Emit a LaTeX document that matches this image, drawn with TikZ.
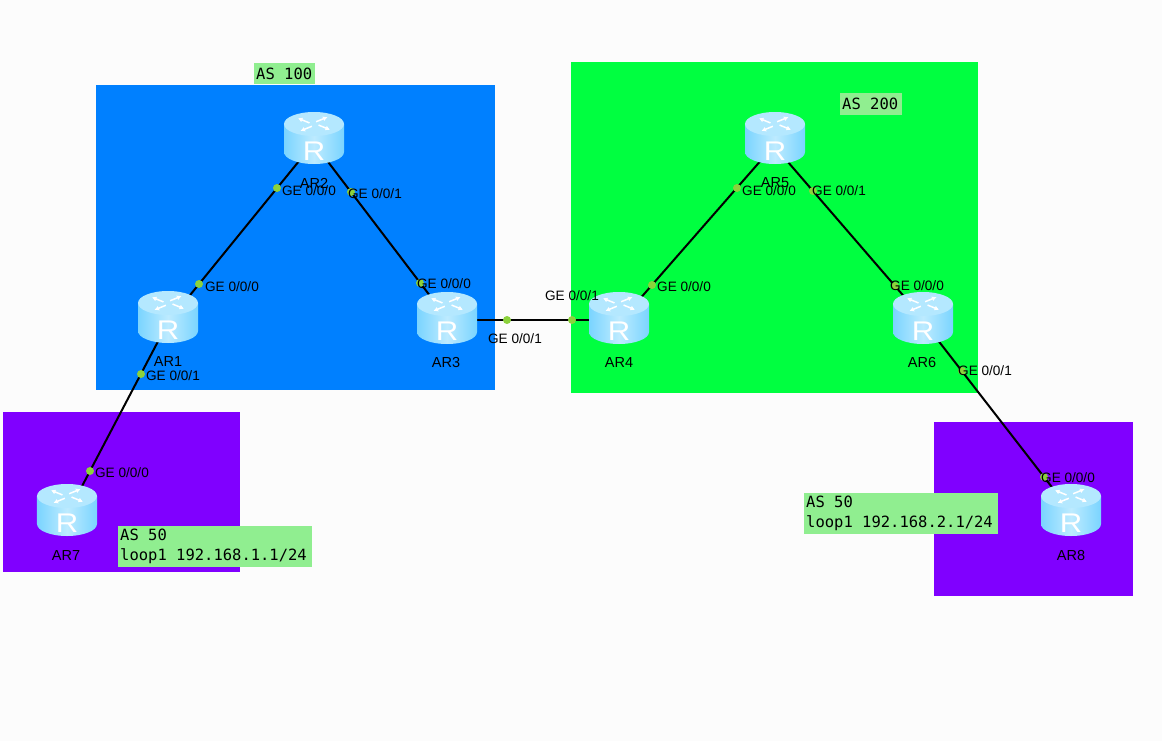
\documentclass[tikz,border=0pt]{standalone}
\usepackage{fontspec}
\setmainfont{Liberation Sans}
\newfontfamily\asfont{DejaVu Sans Mono}
\usetikzlibrary{arrows.meta}
\pgfdeclarelayer{bg}
\pgfsetlayers{bg,main}
\definecolor{asblue}{HTML}{0080FF}
\definecolor{asgreen}{HTML}{00FF40}
\definecolor{aspurple}{HTML}{8000FF}
\definecolor{notegreen}{HTML}{90EE90}
\definecolor{portgreen}{HTML}{8CD23C}
\definecolor{routerlight}{HTML}{B4E8FF}
\definecolor{routermid}{HTML}{7AD4FF}
\definecolor{routerpale}{HTML}{BDEBFF}
\newcommand{\notegap}{\kern.602em\relax}
\tikzset{
  routerarrow/.style={white,line width=1.5pt,-{Latex[length=4.5pt,width=5pt]}},
  router/.style={inner sep=0pt,minimum width=60pt,minimum height=56pt},
  routertag/.style={inner sep=0pt,text=black,font=\fontsize{14.5}{16}\selectfont},
  port/.style={circle,fill=portgreen,inner sep=0pt,minimum size=8pt},
  ge/.style={inner sep=0pt,text=black,font=\fontsize{13.6}{15}\selectfont},
  note/.style={fill=notegreen,anchor=north west,align=left,inner sep=0pt,inner xsep=2pt,text=black,font=\asfont\fontsize{15.5}{20}\selectfont},
  link/.style={line width=2pt,black}
}
\newsavebox{\routerbox}
\sbox{\routerbox}{\begin{tikzpicture}[x=1pt,y=-1pt]
  \path[use as bounding box] (-30,-28) rectangle (30,28);
  \path[left color=routermid,right color=routermid,middle color=routerpale] (-30,-13) -- (-30,15) arc[x radius=30,y radius=12,start angle=180,end angle=0] -- (30,-13) -- cycle;
  \fill[routerlight] (0,-13) ellipse[x radius=30,y radius=12];
  \foreach \a in {25,115,205,295}{\draw[routerarrow] ([shift={(0,-13)}]\a:5 and 2.5) -- ([shift={(0,-13)}]\a+15:21 and 9);}
  \node[white,inner sep=0pt,font=\fontsize{27}{27}\selectfont,xscale=1.15,transform shape] (Rletter) at (0,14) {R};
\end{tikzpicture}}
\begin{document}
\begin{tikzpicture}[x=1pt,y=-1pt]
  \node[router] (AR1) at (168,316) {\usebox{\routerbox}}; \node[router] (AR2) at (314,137) {\usebox{\routerbox}}; \node[router] (AR3) at (447,317) {\usebox{\routerbox}};
  \node[router] (AR4) at (619,317) {\usebox{\routerbox}}; \node[router] (AR5) at (775,137) {\usebox{\routerbox}}; \node[router] (AR6) at (923,317) {\usebox{\routerbox}};
  \node[router] (AR7) at (67,509) {\usebox{\routerbox}}; \node[router] (AR8) at (1071,509) {\usebox{\routerbox}};
  \node[routertag] (tag1) at (168,362) {AR1}; \node[routertag] (tag2) at (314,183) {AR2}; \node[routertag] (tag3) at (446,363) {AR3}; \node[routertag] (tag4) at (619,363) {AR4};
  \node[routertag] (tag5) at (775,183) {AR5}; \node[routertag] (tag6) at (922,363) {AR6}; \node[routertag] (tag7) at (66,556) {AR7}; \node[routertag] (tag8) at (1071,556) {AR8};
  \begin{pgfonlayer}{bg}
  \fill[white!99!black] (0,0) rectangle (1162,741);
  \fill[asblue] (96,85) rectangle (495,390); \fill[asgreen] (571,62) rectangle (978,393);
  \fill[aspurple] (3,412) rectangle (240,572); \fill[aspurple] (934,422) rectangle (1133,596);
  \draw[link] ([shift={(14,-11)}]AR1.center) to ([shift={(-6,13)}]AR2.center); \draw[link] ([shift={(5,13)}]AR2.center) to ([shift={(-10,-12)}]AR3.center);
  \draw[link] ([shift={(0,3)}]AR3.center) to ([shift={(0,3)}]AR4.center); \draw[link] ([shift={(15.5,-12)}]AR4.center) to ([shift={(-5,13)}]AR5.center);
  \draw[link] ([shift={(2.6,13)}]AR5.center) to ([shift={(-11.6,-12)}]AR6.center); \draw[link] ([shift={(-4,14)}]AR1.center) to ([shift={(10.4,-14)}]AR7.center);
  \draw[link] ([shift={(7,13)}]AR6.center) to ([shift={(-13,-14)}]AR8.center);
  \end{pgfonlayer}
  \node[port] (p1) at (277,188) {}; \node[port] (p2) at (351,192) {}; \node[port] (p3) at (199,284) {}; \node[port] (p4) at (420,283) {}; \node[port] (p5) at (141,374) {}; \node[port] (p6) at (90,471) {}; \node[port] (p7) at (507,320) {};
  \node[port] (p8) at (572,320) {}; \node[port] (p9) at (737,188) {}; \node[port] (p10) at (813,191) {}; \node[port] (p11) at (652,285) {}; \node[port] (p12) at (895,286) {}; \node[port] (p13) at (962,371) {}; \node[port] (p14) at (1044,477) {};
  \node[ge] (g1) at (309,191) {GE 0/0/0}; \node[ge] (g2) at (375,194) {GE 0/0/1}; \node[ge] (g3) at (232,287) {GE 0/0/0}; \node[ge] (g4) at (444,284) {GE 0/0/0}; \node[ge] (g5) at (173,376) {GE 0/0/1}; \node[ge] (g6) at (122,473) {GE 0/0/0}; \node[ge] (g7) at (515,339) {GE 0/0/1};
  \node[ge] (g8) at (572,296) {GE 0/0/1}; \node[ge] (g9) at (769,191) {GE 0/0/0}; \node[ge] (g10) at (839,191) {GE 0/0/1}; \node[ge] (g11) at (684,287) {GE 0/0/0}; \node[ge] (g12) at (917,286) {GE 0/0/0}; \node[ge] (g13) at (985,371) {GE 0/0/1}; \node[ge] (g14) at (1068,478) {GE 0/0/0};
  \node[note,text width=57pt,minimum height=21pt] (as100) at (254,63) {AS\notegap 100}; \node[note,text width=58pt,minimum height=22pt] (as200) at (840,93) {AS\notegap 200};
  \node[note,text width=190pt,minimum height=41pt] (as50a) at (118,526) {AS\notegap 50\\loop1\notegap 192.168.1.1/24}; \node[note,text width=190pt,minimum height=41pt] (as50b) at (804,493) {AS\notegap 50\\loop1\notegap 192.168.2.1/24};
\end{tikzpicture}
\end{document}
